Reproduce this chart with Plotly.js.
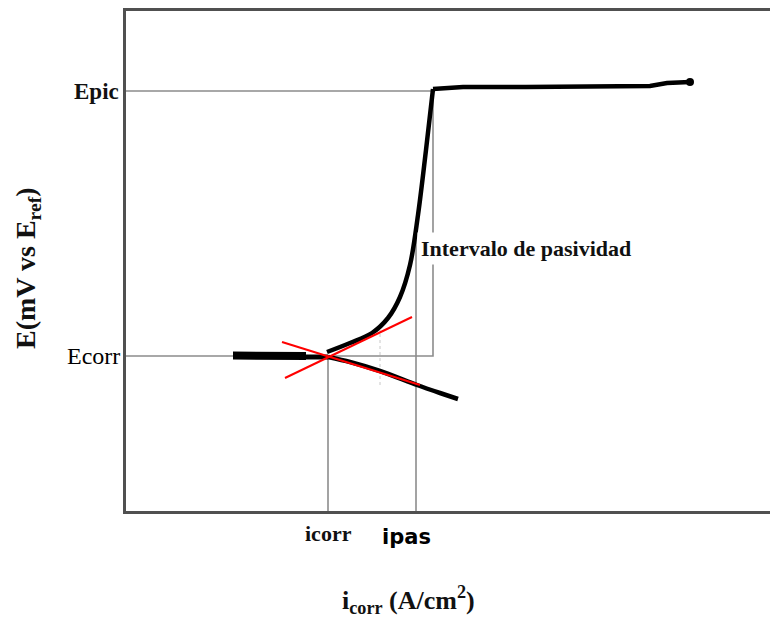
<!DOCTYPE html>
<html><head><meta charset="utf-8">
<script src="https://cdn.plot.ly/plotly-3.0.1.min.js"></script>
<style>html,body{margin:0;padding:0;background:#fff}</style>
</head><body><div id="chart" style="width:770px;height:619px"></div>
<script>
// Chart units: x = log current density (arbitrary units), y = potential (arbitrary units)
const E_pic = 420;
const E_corr = 155;
const i_corr = 202;
const i_pas = 290;
const i_pic = 307;
const i_mark = 254;
const ipasTop = 274;
const labelY = 263;

const cathodicThickX = [107, 140, 180];
const cathodicThickY = [155.5, 155.5, 155];
const cathodicX = [174, 190, 202];
const cathodicY = [154, 154, 154];
const lowerX = [202, 224, 254, 291, 314, 332];
const lowerY = [154, 149, 140, 126, 118, 112];
const anodicX = [201, 224, 246, 262, 274, 284, 292, 300, 307];
const anodicY = [159, 168, 178, 193, 214, 246, 296, 361, 422];
const plateauX = [307, 337, 400, 524, 541, 564];
const plateauY = [422, 424, 424, 425, 428, 429];
const tafelAX = [156, 294];
const tafelAY = [169, 126];
const tafelBX = [159, 286];
const tafelBY = [133, 194];

const guideGray = '#8c8c8c';
const traces = [
  {x: [0, i_pic, i_pic, 0], y: [E_corr, E_corr, E_pic, E_pic], mode: 'lines', line: {color: guideGray, width: 1.6}},
  {x: [i_corr, i_corr], y: [0, E_corr], mode: 'lines', line: {color: guideGray, width: 1.6}},
  {x: [i_pas, i_pas], y: [0, ipasTop], mode: 'lines', line: {color: guideGray, width: 1.6}},
  {x: [i_mark, i_mark], y: [lowerY[2] - 14, anodicY[2] + 3], mode: 'lines', line: {color: '#c8c8c8', width: 1, dash: 'dot'}},
  {x: cathodicThickX, y: cathodicThickY, mode: 'lines', line: {color: '#000', width: 8}},
  {x: cathodicX, y: cathodicY, mode: 'lines', line: {color: '#000', width: 5}},
  {x: lowerX, y: lowerY, mode: 'lines', line: {color: '#000', width: 4.5, shape: 'spline', smoothing: 0.8}},
  {x: anodicX, y: anodicY, mode: 'lines', line: {color: '#000', width: 4.5, shape: 'spline', smoothing: 1}},
  {x: plateauX, y: plateauY, mode: 'lines', line: {color: '#000', width: 4.5}},
  {x: [plateauX[plateauX.length - 1]], y: [plateauY[plateauY.length - 1]], mode: 'markers', marker: {color: '#000', size: 8}},
  {x: tafelAX, y: tafelAY, mode: 'lines', line: {color: '#ff0000', width: 2}},
  {x: tafelBX, y: tafelBY, mode: 'lines', line: {color: '#ff0000', width: 2}}
];

const serif = 'Liberation Serif, Times New Roman, serif';
const layout = {
  width: 770, height: 619,
  margin: {l: 126, r: 0, t: 11, b: 108},
  paper_bgcolor: '#fff', plot_bgcolor: '#fff',
  showlegend: false,
  xaxis: {range: [0, 644], showgrid: false, zeroline: false, showticklabels: false, ticks: '',
          showline: true, mirror: true, linecolor: '#505050', linewidth: 3},
  yaxis: {range: [0, 500], showgrid: false, zeroline: false, showticklabels: false, ticks: '',
          showline: true, mirror: false, linecolor: '#505050', linewidth: 3},
  annotations: [
    {xref: 'x', yref: 'y', x: 0, y: E_pic, xanchor: 'right', yanchor: 'middle', xshift: -5, showarrow: false,
     text: '<b>Epic</b>', font: {family: serif, size: 23, color: '#111'}},
    {xref: 'x', yref: 'y', x: 0, y: E_corr, xanchor: 'right', yanchor: 'middle', xshift: -4, showarrow: false,
     text: 'Ecorr', font: {family: serif, size: 24, color: '#000'}},
    {xref: 'x', yref: 'paper', x: i_corr, y: 0, xanchor: 'center', yanchor: 'top', yshift: -8, showarrow: false,
     text: '<b>icorr</b>', font: {family: serif, size: 22, color: '#111'}},
    {xref: 'x', yref: 'paper', x: i_pas, y: 0, xanchor: 'center', yanchor: 'top', xshift: -10, yshift: -12, showarrow: false,
     text: '<b>ipas</b>', font: {family: 'DejaVu Sans, sans-serif', size: 21, color: '#000'}},
    {xref: 'x', yref: 'y', x: i_pas, y: labelY, xanchor: 'left', yanchor: 'middle', xshift: 1, showarrow: false,
     bgcolor: '#fff', borderpad: 3,
     text: '<b>Intervalo de pasividad</b>', font: {family: serif, size: 22, color: '#111'}},
    {xref: 'paper', yref: 'paper', x: 0, y: 0.486, xshift: -99, xanchor: 'center', yanchor: 'middle', textangle: -90, showarrow: false,
     text: '<b>E(mV vs E<sub>ref</sub>)</b>', font: {family: serif, size: 28, color: '#111'}},
    {xref: 'x', yref: 'paper', x: 282, y: 0, xanchor: 'center', yanchor: 'top', yshift: -69, showarrow: false,
     text: '<b>i<sub>corr</sub> (A/cm<sup>2</sup>)</b>', font: {family: serif, size: 26, color: '#111'}}
  ]
};

Plotly.newPlot('chart', traces, layout, {displayModeBar: false, staticPlot: true});
</script>
</body></html>
